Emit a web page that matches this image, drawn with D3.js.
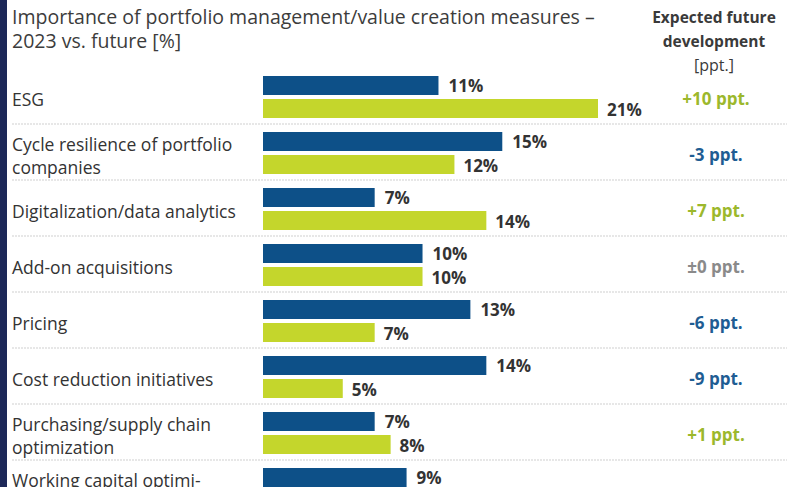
<!DOCTYPE html>
<html><head><meta charset="utf-8">
<script src="https://cdn.jsdelivr.net/npm/d3@7"></script>
<style>html,body{margin:0;padding:0;background:#fff;overflow:hidden}</style>
</head><body>
<svg id="c" width="790" height="487"></svg>
<script>
const categories = [
  ["ESG"],
  ["Cycle resilience of portfolio", "companies"],
  ["Digitalization/data analytics"],
  ["Add-on acquisitions"],
  ["Pricing"],
  ["Cost reduction initiatives"],
  ["Purchasing/supply chain", "optimization"],
  ["Working capital optimi-", "zation"]
];
const values2023 = [11, 15, 7, 10, 13, 14, 7, 9];
const valuesFuture = [21, 12, 14, 10, 7, 5, 8, null];
const changeLabels = ["+10 ppt.", "-3 ppt.", "+7 ppt.", "±0 ppt.", "-6 ppt.", "-9 ppt.", "+1 ppt.", null];
const titleLines = ["Importance of portfolio management/value creation measures –", "2023 vs. future [%]"];
const headerLines = ["Expected future", "development", "[ppt.]"];

const BLUE = "#0d5088", GREEN = "#c4d62c";
const FONT = "'Open Sans', sans-serif";
const svg = d3.select("#c");

svg.append("rect").attr("x",0).attr("y",0).attr("width",7).attr("height",487).attr("fill","#1d2858");

const x = d3.scaleLinear().domain([0, 21]).range([263, 598]);
const y = d3.scaleBand().domain(d3.range(categories.length)).range([68, 68 + 56*categories.length]).paddingInner(0).paddingOuter(0);
const barH = 19;

// title
svg.append("g").selectAll("text").data(titleLines).join("text")
  .attr("x", 12).attr("y", (d,i)=>24 + i*24)
  .attr("font-family", FONT).attr("font-size", 19.5).attr("fill", "#3c3c3c").text(d=>d);

// header
svg.append("g").selectAll("text").data(headerLines).join("text")
  .attr("x", 714).attr("y", (d,i)=>23 + i*24).attr("text-anchor","middle")
  .attr("font-family", FONT).attr("font-size", (d,i)=> i<2 ? 15.5 : 16)
  .attr("font-weight", (d,i)=> i<2 ? 700 : 400).attr("fill", "#3a3a3a").text(d=>d);

const rows = svg.append("g").selectAll("g").data(categories).join("g")
  .attr("transform", (d,i)=>`translate(0,${y(i)})`);

// separators
rows.filter((d,i)=> i < categories.length-1).append("line")
  .attr("x1", 12).attr("x2", 787).attr("y1", y.bandwidth()).attr("y2", y.bandwidth())
  .attr("stroke", "#cfcfcf").attr("stroke-width", 1.2).attr("stroke-dasharray", "2,1");

// labels
rows.each(function(d){
  const g = d3.select(this);
  const n = d.length;
  const cy = y.bandwidth()/2 + 4;
  g.selectAll("text.lab").data(d).join("text").attr("class","lab")
    .attr("x", 12).attr("y", (t,j)=> cy + 6 + (j - (n-1)/2)*23)
    .attr("font-family", FONT).attr("font-size", 17.5).attr("fill", "#333").text(t=>t);
});

// bars
rows.append("rect").attr("x", x(0)).attr("y", 8).attr("height", barH)
  .attr("width", (d,i)=> x(values2023[i]) - x(0)).attr("fill", BLUE);
rows.filter((d,i)=> valuesFuture[i] != null).append("rect").attr("x", x(0)).attr("y", 31).attr("height", barH)
  .attr("width", (d,i)=> x(valuesFuture[categories.indexOf(d)]) - x(0)).attr("fill", GREEN);

// value labels
rows.append("text").attr("x", (d,i)=> x(values2023[i]) + 10).attr("y", 8 + barH/2 + 6)
  .attr("font-family", FONT).attr("font-size", 17).attr("font-weight", 700).attr("fill","#333")
  .text((d,i)=> values2023[i] + "%");
rows.filter((d,i)=> valuesFuture[i] != null).append("text")
  .attr("x", d=> x(valuesFuture[categories.indexOf(d)]) + 9).attr("y", 31 + barH/2 + 7)
  .attr("font-family", FONT).attr("font-size", 17).attr("font-weight", 700).attr("fill","#333")
  .text(d=> valuesFuture[categories.indexOf(d)] + "%");

// change labels
const changeColor = s => s.startsWith("+") ? "#9cb82c" : s.startsWith("-") ? "#1f5d93" : "#8a8a8a";
rows.filter((d,i)=> changeLabels[i] != null).append("text")
  .attr("x", 716).attr("y", y.bandwidth()/2 + 9).attr("text-anchor","middle")
  .attr("font-family", FONT).attr("font-size", 17).attr("font-weight", 700)
  .attr("fill", d=> changeColor(changeLabels[categories.indexOf(d)]))
  .text(d=> changeLabels[categories.indexOf(d)]);
</script>
</body></html>
